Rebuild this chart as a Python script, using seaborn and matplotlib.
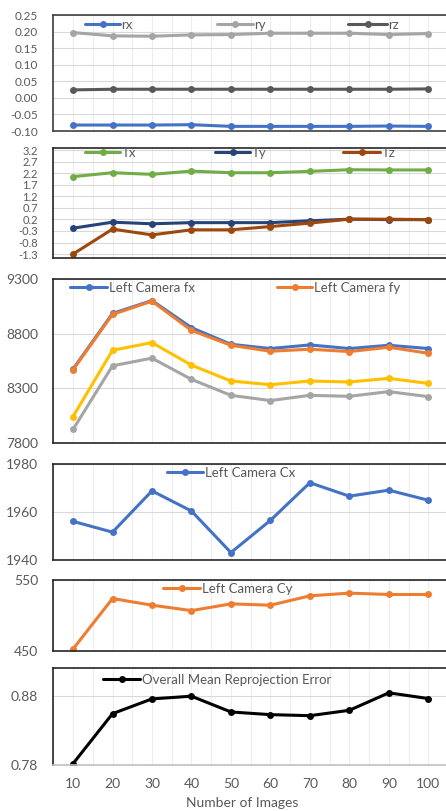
import numpy as np
import matplotlib
matplotlib.use("Agg")
import matplotlib.pyplot as plt
import seaborn as sns
from matplotlib.lines import Line2D

# ---- data -------------------------------------------------------------
images = [10, 20, 30, 40, 50, 60, 70, 80, 90, 100]

rx = [-0.082, -0.082, -0.082, -0.081, -0.086, -0.086, -0.086, -0.086, -0.085, -0.086]
ry = [0.197, 0.187, 0.186, 0.190, 0.191, 0.195, 0.195, 0.195, 0.191, 0.194]
rz = [0.024, 0.026, 0.026, 0.026, 0.026, 0.026, 0.026, 0.026, 0.026, 0.027]

tx = [2.05, 2.22, 2.15, 2.29, 2.22, 2.22, 2.28, 2.35, 2.34, 2.34]
ty = [-0.18, 0.08, 0.01, 0.06, 0.06, 0.06, 0.14, 0.21, 0.19, 0.19]
tz = [-1.30, -0.22, -0.47, -0.25, -0.25, -0.11, 0.04, 0.21, 0.21, 0.19]

left_fx = [8476, 8985, 9103, 8855, 8703, 8664, 8697, 8664, 8694, 8664]
left_fy = [8470, 8976, 9097, 8830, 8694, 8639, 8658, 8636, 8676, 8621]
right_fx = [8042, 8648, 8718, 8512, 8367, 8333, 8367, 8358, 8391, 8345]
right_fy = [7924, 8506, 8576, 8382, 8236, 8188, 8236, 8227, 8270, 8224]

left_cx = [1956.1, 1951.6, 1968.8, 1960.4, 1943.1, 1956.5, 1972.2, 1966.6, 1969.1, 1964.9]
left_cy = [452.8, 523.9, 514.5, 506.9, 516.4, 514.5, 527.7, 531.5, 529.6, 529.6]

mean_error = [0.782, 0.8546, 0.8761, 0.880, 0.8571, 0.8532, 0.8517, 0.8595, 0.8849, 0.8766]

rot_ticks = [-0.10, -0.05, 0.00, 0.05, 0.10, 0.15, 0.20, 0.25]
trans_ticks = [-1.3, -0.8, -0.3, 0.2, 0.7, 1.2, 1.7, 2.2, 2.7, 3.2]
focal_ticks = [7800, 8300, 8800, 9300]
cx_ticks = [1940, 1960, 1980]
cy_ticks = [450, 550]
err_ticks = [0.78, 0.88]

# ---- style ------------------------------------------------------------
sns.set_theme(style="white")
plt.rcParams["font.family"] = ["Lato", "DejaVu Sans"]

BLUE, ORANGE, GREY, YELLOW = "#4472C4", "#ED7D31", "#A5A5A5", "#FFC000"
DARK, GREEN, NAVY, BROWN = "#595959", "#70AD47", "#264478", "#9E480E"
TEXT = "#595959"
LW, MS = 2.2, 5

W, H = 446, 811
fig = plt.figure(figsize=(W / 100, H / 100), dpi=100)
fig.patch.set_facecolor("white")

X_LEFT, X_RIGHT = 53.3, 448.0


def make_axes(top, bottom):
    return fig.add_axes([X_LEFT / W, 1 - bottom / H,
                         (X_RIGHT - X_LEFT) / W, (bottom - top) / H])


def draw(ax, values, color):
    sns.lineplot(x=images, y=values, ax=ax, color=color, marker="o",
                 markersize=MS, markeredgecolor=color, markeredgewidth=0,
                 linewidth=LW, sort=False, legend=False)


def style_axes(ax, ylim, yticks, fmt, ysize, bottom_labels=False,
               spine_color="#262626"):
    ax.set_xlim(5, 105)
    ax.set_ylim(*ylim)
    ax.set_yticks(yticks)
    ax.set_yticklabels([fmt.format(v) for v in yticks])
    ax.set_xticks(images)
    ax.set_xticks(np.arange(5, 106, 5), minor=True)
    ax.grid(axis="x", which="both", color="#EDEDED", linewidth=0.8)
    ax.grid(axis="y", which="major", color="#D9D9D9", linewidth=0.8)
    ax.set_axisbelow(True)
    ax.tick_params(axis="y", length=0, pad=11, labelsize=ysize,
                   labelcolor=TEXT)
    ax.set_xlabel("")
    ax.set_ylabel("")
    for s in ax.spines.values():
        s.set_color(spine_color)
        s.set_linewidth(1.2)
    if bottom_labels:
        ax.set_xticklabels([str(v) for v in images])
        ax.tick_params(axis="x", which="major", length=0, pad=9,
                       labelsize=10, labelcolor=TEXT)
        ax.tick_params(axis="x", which="minor", length=5, width=0.8,
                       color="#BFBFBF", direction="out")
        ax.spines["bottom"].set_color("#BFBFBF")
    else:
        ax.tick_params(axis="x", which="both", length=0, labelbottom=False)


def key(color, label, x0, x1, y, fs=9.5):
    handle = Line2D([], [], color=color, lw=LW, marker="o", ms=MS,
                    mec=color, mew=0)
    fs_px = fs * 100 / 72
    fig.legend([handle], [label], loc="center left",
               bbox_to_anchor=(x0 / W, 1 - y / H), frameon=False,
               fontsize=fs, handlelength=(x1 - x0) / fs_px,
               handletextpad=0.12, borderpad=0, borderaxespad=0,
               labelcolor=TEXT)


# ---- rotation ---------------------------------------------------------
ax1 = make_axes(15, 131)
draw(ax1, rx, BLUE)
draw(ax1, ry, GREY)
draw(ax1, rz, DARK)
style_axes(ax1, (-0.10, 0.25), rot_ticks, "{:.2f}", 8.5,
           spine_color="#404040")
key(BLUE, "rx", 85, 120, 25)
key(GREY, "ry", 217, 253, 25)
key(DARK, "rz", 348, 387, 25)

# ---- translation ------------------------------------------------------
ax2 = make_axes(148, 258)
draw(ax2, tx, GREEN)
draw(ax2, ty, NAVY)
draw(ax2, tz, BROWN)
style_axes(ax2, (-1.47, 3.29), trans_ticks, "{:.1f}", 8)
key(GREEN, "Tx", 85, 120, 153)
key(NAVY, "Ty", 215, 250, 153)
key(BROWN, "Tz", 343, 380, 153)

# ---- focal lengths ----------------------------------------------------
ax3 = make_axes(279, 443)
draw(ax3, left_fx, BLUE)
draw(ax3, left_fy, ORANGE)
draw(ax3, right_fx, YELLOW)
draw(ax3, right_fy, GREY)
style_axes(ax3, (7800, 9300), focal_ticks, "{:d}", 10)
key(BLUE, "Left Camera fx", 70, 107, 288)
key(ORANGE, "Left Camera fy", 277, 312, 288)

# ---- principal point x ------------------------------------------------
ax4 = make_axes(464, 560)
draw(ax4, left_cx, BLUE)
style_axes(ax4, (1940, 1980), cx_ticks, "{:d}", 10)
key(BLUE, "Left Camera Cx", 167, 203, 473)

# ---- principal point y ------------------------------------------------
ax5 = make_axes(580, 651)
draw(ax5, left_cy, ORANGE)
style_axes(ax5, (450, 550), cy_ticks, "{:d}", 10)
key(ORANGE, "Left Camera Cy", 163, 200, 589)

# ---- reprojection error -----------------------------------------------
ax6 = make_axes(668, 765)
draw(ax6, mean_error, "black")
style_axes(ax6, (0.78, 0.921), err_ticks, "{:.2f}", 10, bottom_labels=True)
key("black", "Overall Mean Reprojection Error", 103, 140, 680)
fig.text(242 / W, 1 - 803 / H, "Number of Images", ha="center",
         va="center", fontsize=10, color=TEXT)

fig.savefig("out.png", dpi=100)
